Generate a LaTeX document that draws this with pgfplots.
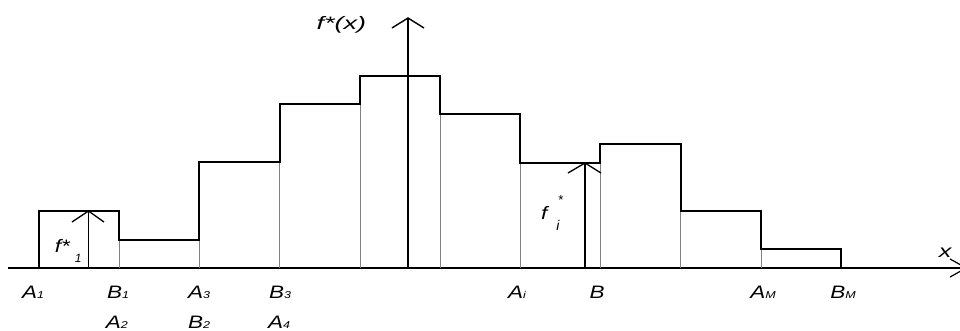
\documentclass[border=0pt]{standalone}
\usepackage{pgfplots}
\pgfplotsset{compat=1.18}
\usepackage{fontspec}
\setmainfont{Liberation Sans}
\usepackage{graphicx}

% etiqueta inclinada y algo ensanchada, con subindice pequeno
\newcommand{\lab}[2]{\scalebox{1.25}[1]{\itshape #1{\fontsize{10}{10}\selectfont #2}}}
\tikzset{lbl/.style={font=\fontsize{18}{21}\selectfont, inner sep=0pt}}

\begin{document}
\begin{tikzpicture}
\begin{axis}[
    scale only axis,
    width=960pt, height=331pt,
    xmin=-0.4863, xmax=11.4838,
    ymin=-63, ymax=268,
    hide axis,
    ticks=none,
    clip=true,
]
% eje x
\addplot[black, line width=1.2pt] coordinates {(-0.387,0) (11.55,0)};
\addplot[black, line width=1.2pt] coordinates {(11.36,9) (11.56,0) (11.36,-9)};

% lineas finas interiores
\addplot[ycomb, gray, line width=0.6pt, mark=none] coordinates {
    (1,28) (2,28) (3,106) (4,164) (5,154) (6,105) (7,105) (8,57) (9,19)
};

% contorno del histograma
\addplot[const plot, black, line width=2pt] coordinates {
    (0,0) (0,57) (1,28) (2,106) (3,164) (4,192) (5,154) (6,105)
    (7,124) (8,57) (9,19) (10,19) (10,0) (10.586,0)
};

% eje vertical f*(x)
\addplot[black, line width=2pt] coordinates {(4.601,0) (4.601,250)};
\addplot[black, line width=1.4pt] coordinates {(4.401,240) (4.601,250) (4.800,240)};

% flecha f*_1
\addplot[black, line width=1.8pt] coordinates {(0.617,0) (0.617,57)};
\addplot[black, line width=1.3pt] coordinates {(0.411,46) (0.617,57) (0.810,46)};

% flecha f*_i
\addplot[black, line width=1.8pt] coordinates {(6.808,0) (6.808,105)};
\addplot[black, line width=1.3pt] coordinates {(6.596,95) (6.808,105) (7.007,95)};

% textos
\node[lbl] at (axis cs:3.77,243) {\scalebox{1.5}[1]{\itshape f*(x)}};
\node[lbl] at (axis cs:11.30,15) {\scalebox{1.4}[1]{\itshape x}};
\node[lbl] at (axis cs:0.29,22) {\scalebox{1.25}[1]{\itshape f*}};
\node[lbl] at (axis cs:0.49,10) {\fontsize{12}{12}\selectfont\itshape 1};
\node[lbl] at (axis cs:6.30,55) {\scalebox{1.25}[1]{\itshape f}};
\node[lbl] at (axis cs:6.50,68) {\fontsize{13}{13}\selectfont\itshape *};
\node[lbl] at (axis cs:6.47,43) {\fontsize{14}{14}\selectfont\itshape i};

\node[lbl] at (axis cs:-0.075,-24) {\lab{A}{1}};
\node[lbl] at (axis cs:0.985,-24) {\lab{B}{1}};
\node[lbl] at (axis cs:1.995,-24) {\lab{A}{3}};
\node[lbl] at (axis cs:3.005,-24) {\lab{B}{3}};
\node[lbl] at (axis cs:5.96,-24) {\lab{A}{i}};
\node[lbl] at (axis cs:6.958,-24) {\lab{B}{}};
\node[lbl] at (axis cs:9.027,-24) {\lab{A}{M}};
\node[lbl] at (axis cs:10.025,-24) {\lab{B}{M}};
\node[lbl] at (axis cs:0.97,-54) {\lab{A}{2}};
\node[lbl] at (axis cs:1.995,-54) {\lab{B}{2}};
\node[lbl] at (axis cs:2.995,-54) {\lab{A}{4}};
\end{axis}
\pgfresetboundingbox
\useasboundingbox (current axis.south west) rectangle (current axis.north east);
\end{tikzpicture}
\end{document}
